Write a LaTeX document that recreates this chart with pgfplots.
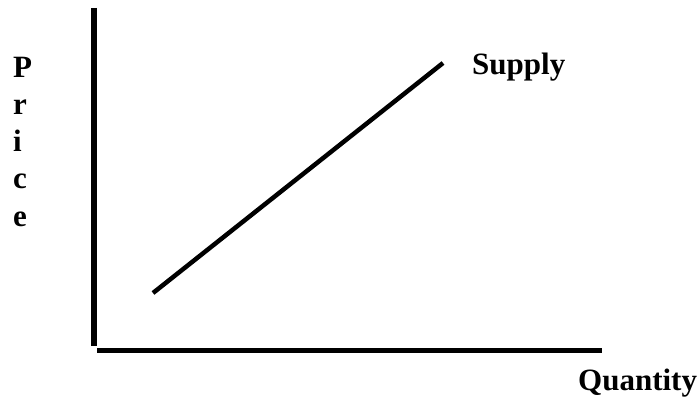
\documentclass[border=0pt]{standalone}
\usepackage{fontspec}
\setmainfont{Liberation Serif}
\usepackage{pgfplots}
\pgfplotsset{compat=1.18}
\begin{document}
\begin{tikzpicture}
\begin{axis}[
  scale only axis, width=700bp, height=402bp,
  xmin=0, xmax=700, ymin=0, ymax=402,
  hide axis, clip=false,
]
% invisible frame to fix the page size
\addplot[draw=none, forget plot] coordinates {(0,0) (700,402)};
% axes
\addplot[black, line width=6bp, line cap=butt] coordinates {(94,394) (94,56)};
\addplot[black, line width=5bp, line cap=butt] coordinates {(97,51.5) (602,51.5)};
% supply curve
\addplot[black, line width=4.5bp, line cap=butt] coordinates {(153,109) (443,339)};
% labels
\tikzset{lbl/.style={inner sep=0pt, anchor=base west, font=\fontsize{31bp}{37bp}\selectfont\bfseries}}
\node[lbl] at (axis cs:472,327) {Supply};
\node[lbl] at (axis cs:578,12) {Quantity};
\node[lbl] at (axis cs:13,324) {P};
\node[lbl] at (axis cs:13,287) {r};
\node[lbl] at (axis cs:13,250) {i};
\node[lbl] at (axis cs:13,213) {c};
\node[lbl] at (axis cs:13,176) {e};
\end{axis}
\end{tikzpicture}
\end{document}
